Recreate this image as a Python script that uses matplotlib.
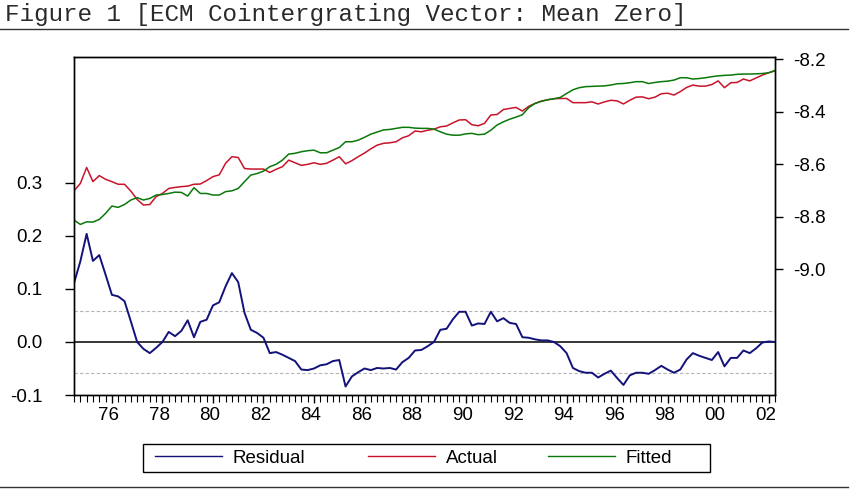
import numpy as np
import matplotlib.pyplot as plt
from matplotlib.lines import Line2D
from matplotlib.patches import Rectangle
from matplotlib.transforms import ScaledTranslation
from matplotlib.ticker import MultipleLocator

plt.rcParams['font.family'] = ['Liberation Sans', 'DejaVu Sans']

titleText = "Figure 1 [ECM Cointergrating Vector: Mean Zero]"

# quarterly data, first observation 1974Q3
firstQuarter = 1974.5

residual = [
    0.111, 0.152, 0.204, 0.153, 0.164, 0.127, 0.089, 0.086, 0.077, 0.039,
    0.000, -0.013, -0.021, -0.011, 0.000, 0.019, 0.011, 0.021, 0.041, 0.009,
    0.038, 0.042, 0.069, 0.075, 0.105, 0.130, 0.113, 0.055, 0.023, 0.017,
    0.008, -0.021, -0.019, -0.024, -0.030, -0.036, -0.052, -0.053, -0.050, -0.044,
    -0.042, -0.036, -0.034, -0.084, -0.065, -0.057, -0.050, -0.053, -0.049, -0.050,
    -0.049, -0.052, -0.038, -0.030, -0.016, -0.015, -0.008, 0.000, 0.023, 0.025,
    0.043, 0.057, 0.057, 0.031, 0.035, 0.034, 0.057, 0.039, 0.045, 0.036,
    0.034, 0.009, 0.008, 0.005, 0.003, 0.003, 0.000, -0.008, -0.021, -0.049,
    -0.055, -0.058, -0.058, -0.067, -0.060, -0.054, -0.068, -0.081, -0.063, -0.058,
    -0.058, -0.060, -0.053, -0.045, -0.052, -0.058, -0.052, -0.033, -0.021, -0.026,
    -0.030, -0.034, -0.019, -0.046, -0.030, -0.030, -0.016, -0.021, -0.012, -0.001,
    0.001, 0.000,
]

actual = [
    -8.702, -8.674, -8.613, -8.667, -8.644, -8.658, -8.667, -8.677, -8.677, -8.703,
    -8.735, -8.756, -8.754, -8.724, -8.712, -8.693, -8.689, -8.686, -8.684, -8.677,
    -8.676, -8.663, -8.648, -8.641, -8.597, -8.572, -8.575, -8.617, -8.619, -8.619,
    -8.619, -8.632, -8.620, -8.610, -8.585, -8.595, -8.605, -8.601, -8.595, -8.601,
    -8.597, -8.585, -8.572, -8.599, -8.587, -8.572, -8.558, -8.542, -8.528, -8.521,
    -8.519, -8.515, -8.500, -8.492, -8.474, -8.477, -8.471, -8.467, -8.458, -8.455,
    -8.443, -8.432, -8.431, -8.450, -8.454, -8.445, -8.413, -8.411, -8.392, -8.388,
    -8.384, -8.398, -8.380, -8.369, -8.360, -8.355, -8.351, -8.350, -8.350, -8.366,
    -8.366, -8.366, -8.363, -8.371, -8.363, -8.357, -8.359, -8.371, -8.357, -8.345,
    -8.344, -8.351, -8.345, -8.332, -8.330, -8.337, -8.324, -8.308, -8.299, -8.303,
    -8.303, -8.297, -8.283, -8.309, -8.290, -8.289, -8.276, -8.283, -8.272, -8.261,
    -8.252, -8.245,
]

fitted = [
    -8.813, -8.830, -8.820, -8.821, -8.811, -8.788, -8.760, -8.765, -8.754, -8.737,
    -8.728, -8.737, -8.731, -8.718, -8.716, -8.712, -8.707, -8.708, -8.722, -8.690,
    -8.712, -8.712, -8.718, -8.718, -8.705, -8.702, -8.693, -8.667, -8.642, -8.636,
    -8.627, -8.610, -8.601, -8.585, -8.562, -8.559, -8.553, -8.549, -8.547, -8.557,
    -8.557, -8.547, -8.537, -8.515, -8.515, -8.509, -8.498, -8.486, -8.478, -8.470,
    -8.468, -8.464, -8.460, -8.460, -8.463, -8.464, -8.464, -8.467, -8.477, -8.486,
    -8.490, -8.490, -8.485, -8.483, -8.488, -8.486, -8.471, -8.451, -8.439, -8.429,
    -8.421, -8.412, -8.385, -8.369, -8.361, -8.355, -8.351, -8.346, -8.331, -8.317,
    -8.309, -8.305, -8.304, -8.303, -8.302, -8.299, -8.294, -8.293, -8.290, -8.286,
    -8.286, -8.293, -8.289, -8.286, -8.284, -8.280, -8.271, -8.271, -8.276, -8.274,
    -8.271, -8.267, -8.264, -8.262, -8.261, -8.258, -8.257, -8.257, -8.256, -8.255,
    -8.252, -8.243,
]

residualBand = 0.0585

yearTicks = [1976, 1978, 1980, 1982, 1984, 1986, 1988, 1990, 1992, 1994, 1996, 1998, 2000, 2002]
yearLabels = ["76", "78", "80", "82", "84", "86", "88", "90", "92", "94", "96", "98", "00", "02"]
leftTicks = [-0.1, 0.0, 0.1, 0.2, 0.3]
leftLabels = ["-0.1", "0.0", "0.1", "0.2", "0.3"]
rightTicks = [-9.0, -8.8, -8.6, -8.4, -8.2]
rightLabels = ["-9.0", "-8.8", "-8.6", "-8.4", "-8.2"]

seriesNames = ["Residual", "Actual", "Fitted"]
residColor = '#12127a'
actualColor = '#c8142a'
fittedColor = '#0a780a'

dates = firstQuarter + 0.25 * np.arange(len(residual))

W, H = 857, 492
fig = plt.figure(figsize=(W / 100, H / 100), dpi=100)
ax = fig.add_axes([74 / W, 97 / H, 701 / W, 338 / H])
ax2 = ax.twinx()

# residual panel (left scale)
ax.axhline(0, color='black', lw=1.1, zorder=1)
ax.axhline(residualBand, color='#b4b4b4', lw=0.8, ls=(0, (3, 2)), zorder=1)
ax.axhline(-residualBand, color='#b4b4b4', lw=0.8, ls=(0, (3, 2)), zorder=1)
ax.plot(dates, residual, color=residColor, lw=1.4, zorder=2)

# actual / fitted (right scale)
ax2.plot(dates, actual, color=actualColor, lw=1.1)
ax2.plot(dates, fitted, color=fittedColor, lw=1.1)

ax.set_xlim(dates[0], dates[-1])
ax.set_ylim(-0.1, 0.5377)
ax2.set_ylim(-9.48, -8.192)

ax.set_yticks(leftTicks, leftLabels)
ax2.set_yticks(rightTicks, rightLabels)
ax.set_xticks(yearTicks, yearLabels)
ax.xaxis.set_minor_locator(MultipleLocator(0.25))

ax.tick_params(axis='y', direction='out', length=6.5, width=1, pad=16, labelsize=13.5)
ax2.tick_params(axis='y', direction='out', length=6, width=1, pad=7, labelsize=13.5)
ax.tick_params(axis='x', which='major', direction='out', length=6, width=1, pad=3, labelsize=13.5)
ax.tick_params(axis='x', which='minor', direction='out', length=5, width=0.8)

for lbl in ax.get_xticklabels():
    lbl.set_transform(lbl.get_transform() + ScaledTranslation(-3 / 100, 0, fig.dpi_scale_trans))

for a in (ax, ax2):
    for sp in a.spines.values():
        sp.set_linewidth(1.0)
        sp.set_color('black')

# title and rules
fig.text(5 / W, 1 - 21 / H, titleText, family=['Liberation Mono', 'DejaVu Sans Mono'],
         fontsize=17.5, va='baseline', ha='left', color='#2a2a2a')
fig.add_artist(Line2D([0, 848 / W], [1 - 29 / H, 1 - 29 / H], color='#333333', lw=1.0))
fig.add_artist(Line2D([0, 848 / W], [1 - 487 / H, 1 - 487 / H], color='#333333', lw=1.0))

# legend box, one entry per slot like the EViews layout
fig.add_artist(Rectangle((143 / W, 1 - 472 / H), 567 / W, 28 / H, transform=fig.transFigure,
                         fill=False, edgecolor='black', lw=1.0))
legendColors = [residColor, actualColor, fittedColor]
legendStarts = [155, 368, 548]
for name, col, xStart in zip(seriesNames, legendColors, legendStarts):
    fig.legend([Line2D([], [], color=col, lw=1.0)], [name], loc='center left',
               bbox_to_anchor=(xStart / W, 1 - 458 / H), frameon=False, fontsize=13.5,
               handlelength=3.55, handletextpad=0.6, borderpad=0, borderaxespad=0)

fig.savefig('out.png', dpi=100)
